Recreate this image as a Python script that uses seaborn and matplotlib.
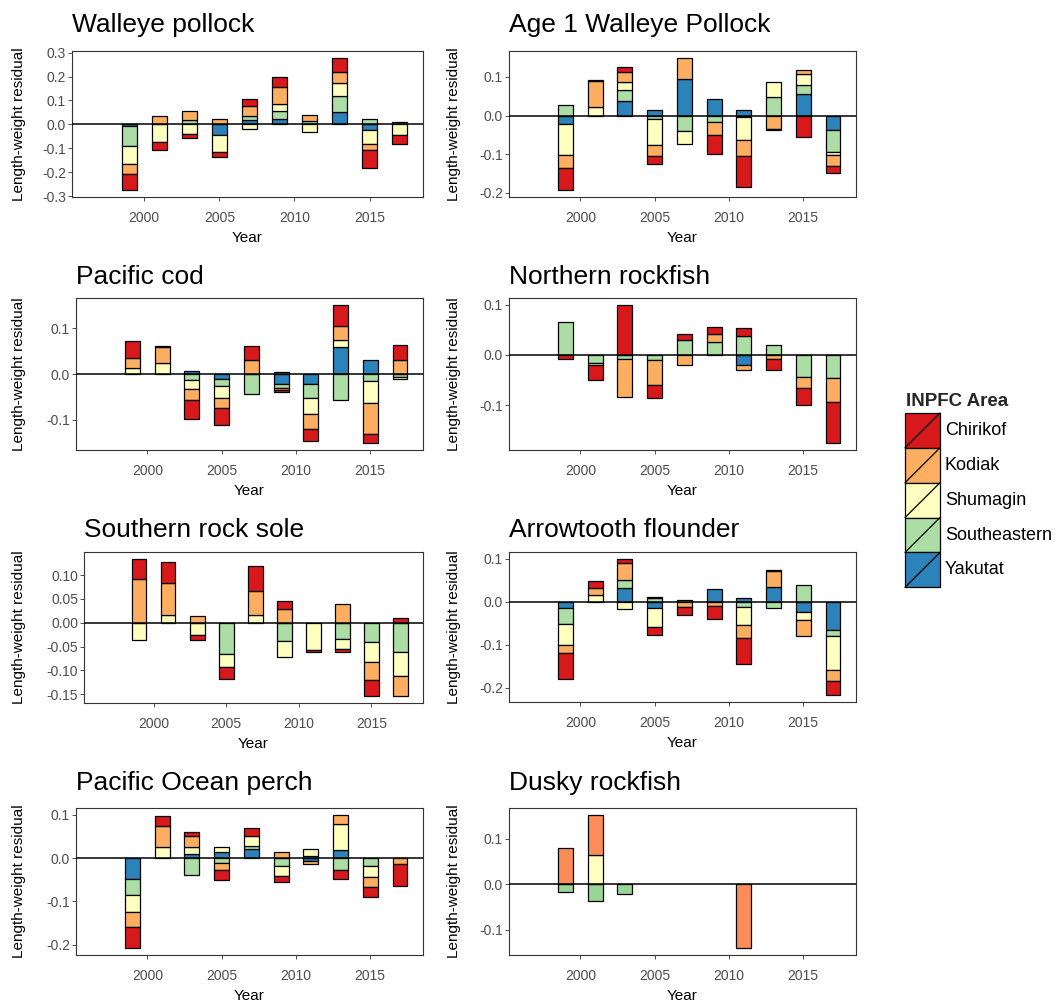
import numpy as np
import pandas as pd
import matplotlib
matplotlib.use("Agg")
import matplotlib.pyplot as plt
from matplotlib.patches import Rectangle
from matplotlib.ticker import MultipleLocator, FormatStrFormatter
import seaborn as sns

#########################################################################
# data: one row per survey year, columns = Chirikof, Kodiak, Shumagin, Southeastern, Yakutat
years = [1999, 2001, 2003, 2005, 2007, 2009, 2011, 2013, 2015, 2017]
areas = ["Chirikof", "Kodiak", "Shumagin", "Southeastern", "Yakutat"]

walleye_pollock = [
    [-0.069, -0.042, -0.075, -0.082, -0.008],
    [-0.035, 0.037, -0.073, 0.0, 0.0],
    [-0.017, 0.035, -0.041, 0.020, 0.0],
    [-0.023, 0.023, -0.072, 0.0, -0.043],
    [0.028, 0.045, -0.018, 0.013, 0.020],
    [0.043, 0.071, 0.031, 0.032, 0.023],
    [0.0, 0.023, -0.034, 0.015, 0.0],
    [0.062, 0.042, 0.055, 0.069, 0.051],
    [-0.075, -0.025, -0.058, 0.021, -0.025],
    [-0.036, 0.0, -0.046, 0.009, 0.0],
]
age1_pollock = [
    [-0.057, -0.034, -0.082, 0.027, -0.021],
    [0.003, 0.067, 0.023, 0.0, 0.0],
    [0.014, 0.026, 0.021, 0.028, 0.038],
    [-0.022, -0.027, -0.067, -0.010, 0.015],
    [0.0, 0.056, -0.034, -0.040, 0.094],
    [-0.049, -0.034, 0.0, -0.017, 0.044],
    [-0.080, -0.041, -0.060, -0.004, 0.014],
    [-0.003, -0.034, 0.039, 0.049, 0.0],
    [-0.056, 0.010, 0.029, 0.022, 0.057],
    [-0.016, -0.030, -0.008, -0.056, -0.038],
]
pacific_cod = [
    [0.036, 0.022, 0.014, 0.0, 0.0],
    [0.002, 0.034, 0.025, 0.0, 0.0],
    [-0.042, -0.024, -0.019, -0.014, 0.007],
    [-0.036, -0.023, -0.026, -0.016, -0.010],
    [0.030, 0.031, 0.0, -0.044, 0.0],
    [-0.006, -0.004, 0.004, -0.009, -0.021],
    [-0.025, -0.033, -0.036, -0.031, -0.021],
    [0.047, 0.029, 0.016, -0.057, 0.059],
    [-0.019, -0.069, -0.048, -0.015, 0.030],
    [0.033, 0.031, -0.006, -0.006, 0.0],
]
northern_rockfish = [
    [-0.008, 0.0, 0.0, 0.066, 0.0],
    [-0.030, 0.0, -0.003, -0.017, 0.0],
    [0.100, -0.075, 0.0, -0.008, 0.0],
    [-0.025, -0.050, 0.0, -0.010, 0.0],
    [0.012, -0.020, 0.0, 0.029, 0.0],
    [0.015, 0.016, 0.0, 0.025, 0.0],
    [0.015, -0.009, 0.0, 0.038, -0.021],
    [-0.023, -0.008, 0.0, 0.019, 0.0],
    [-0.035, -0.022, 0.0, -0.043, 0.0],
    [-0.083, -0.048, 0.0, -0.045, 0.0],
]
southern_rock_sole = [
    [0.042, 0.092, -0.036, 0.0, 0.0],
    [0.044, 0.068, 0.016, 0.0, 0.0],
    [-0.010, 0.015, -0.026, 0.0, 0.0],
    [-0.026, 0.0, -0.028, -0.065, 0.0],
    [0.052, 0.050, 0.017, 0.0, 0.0],
    [0.018, 0.028, -0.032, -0.039, 0.0],
    [-0.003, 0.0, -0.058, 0.0, 0.0],
    [-0.007, 0.039, -0.021, -0.034, 0.0],
    [-0.034, -0.037, -0.042, -0.041, 0.0],
    [0.010, -0.042, -0.050, -0.062, 0.0],
]
arrowtooth_flounder = [
    [-0.060, -0.020, -0.049, -0.036, -0.015],
    [0.017, 0.016, 0.015, 0.0, 0.0],
    [0.009, 0.041, -0.017, 0.017, 0.033],
    [-0.020, 0.003, -0.044, 0.008, -0.014],
    [-0.019, -0.011, 0.004, 0.0, 0.0],
    [-0.032, -0.009, 0.0, 0.0, 0.029],
    [-0.059, -0.030, -0.042, -0.013, 0.008],
    [0.002, 0.037, 0.0, -0.015, 0.034],
    [0.0, -0.037, -0.020, 0.038, -0.023],
    [-0.033, -0.026, -0.078, -0.015, -0.065],
]
pacific_ocean_perch = [
    [-0.049, -0.034, -0.041, -0.036, -0.048],
    [0.024, 0.048, 0.025, 0.0, 0.0],
    [0.008, 0.026, 0.016, -0.040, 0.009],
    [-0.024, -0.015, 0.010, -0.012, 0.015],
    [0.019, 0.0, 0.024, 0.006, 0.021],
    [-0.014, 0.013, -0.023, -0.019, 0.0],
    [0.0, -0.008, 0.017, 0.004, -0.006],
    [-0.021, 0.022, 0.059, -0.027, 0.019],
    [-0.023, -0.023, -0.025, -0.019, 0.0],
    [-0.051, -0.014, 0.0, 0.0, 0.0],
]
# dusky rockfish only sampled in three areas
dusky_years = [1999, 2001, 2003, 2011]
dusky_areas = ["Kodiak", "Shumagin", "Southeastern"]
dusky_rockfish = [
    [0.080, 0.0, -0.018],
    [0.089, 0.064, -0.036],
    [0.0, 0.0, -0.021],
    [-0.141, 0.0, 0.0],
]

pal5 = dict(zip(areas, ["#D7191C", "#FDAE61", "#FFFFBF", "#ABDDA4", "#2B83BA"]))
pal3 = dict(zip(dusky_areas, ["#FC8D59", "#FFFFBF", "#99D594"]))

#########################################################################
sns.set_theme(style="ticks")
plt.rcParams["font.family"] = ["Liberation Sans", "DejaVu Sans"]
plt.rcParams["axes.unicode_minus"] = False

W, H = 1061, 1005
fig = plt.figure(figsize=(W / 100, H / 100), dpi=100)


def px(l, t, r, b):
    return [l / W, 1 - b / H, (r - l) / W, (b - t) / H]


def stack_bars(ax, rows, xs, names, colors):
    df = pd.DataFrame(rows, index=xs, columns=names)
    up = np.zeros(len(df))
    down = np.zeros(len(df))
    # last level sits next to zero, first level on the outside (ggplot stacking)
    for area in names[::-1]:
        v = df[area].to_numpy()
        base = np.where(v > 0, up, down)
        keep = v != 0
        ax.bar(df.index[keep], v[keep], bottom=base[keep], width=1.0,
               color=colors[area], edgecolor="black", linewidth=0.9, zorder=2)
        up += np.clip(v, 0, None)
        down += np.clip(v, None, 0)
    return down.min(), up.max()


# name, data, years, areas, palette, panel box (px), y step, tick format, title baseline
panels = [
    ("Walleye pollock", walleye_pollock, years, areas, pal5, (72, 51, 423, 197), 0.1, "%.1f", 32),
    ("Age 1 Walleye Pollock", age1_pollock, years, areas, pal5, (509, 51, 856, 197), 0.1, "%.1f", 32),
    ("Pacific cod", pacific_cod, years, areas, pal5, (76, 298, 423, 450), 0.1, "%.1f", 284),
    ("Northern rockfish", northern_rockfish, years, areas, pal5, (509, 298, 856, 450), 0.1, "%.1f", 284),
    ("Southern rock sole", southern_rock_sole, years, areas, pal5, (84, 552, 423, 703), 0.05, "%.2f", 537),
    ("Arrowtooth flounder", arrowtooth_flounder, years, areas, pal5, (509, 552, 856, 702), 0.1, "%.1f", 537),
    ("Pacific Ocean perch", pacific_ocean_perch, years, areas, pal5, (76, 808, 423, 955), 0.1, "%.1f", 790),
    ("Dusky rockfish", dusky_rockfish, dusky_years, dusky_areas, pal3, (509, 808, 856, 955), 0.1, "%.1f", 790),
]

for name, rows, xs, names, colors, box, step, fmt, tb in panels:
    l, t, r, b = box
    ax = fig.add_axes(px(l, t, r, b))
    lo, hi = stack_bars(ax, rows, xs, names, colors)
    pad = 0.05 * (hi - lo)
    ax.set_ylim(lo - pad, hi + pad)
    ax.set_xlim(1995.2, 2018.55)
    ax.axhline(0, color="black", linewidth=1.1, zorder=3)
    ax.xaxis.set_major_locator(MultipleLocator(5))
    ax.xaxis.set_major_formatter(FormatStrFormatter("%d"))
    ax.yaxis.set_major_locator(MultipleLocator(step))
    ax.yaxis.set_major_formatter(FormatStrFormatter(fmt))
    ax.tick_params(axis="both", direction="out", length=2.75, width=0.6, color="#333333",
                   labelcolor="#4D4D4D", labelsize=10)
    ax.tick_params(axis="x", pad=7)
    ax.tick_params(axis="y", pad=1.5)
    for s in ax.spines.values():
        s.set_color("#333333")
        s.set_linewidth(0.8)
        s.set_visible(True)
    ax.set_xlabel("Year", fontsize=11, color="black", labelpad=5)
    ax.set_ylabel("Length-weight residual", fontsize=11, color="black")
    lab_x = 26 if l < 300 else 461
    ax.yaxis.set_label_coords((lab_x - l) / (r - l), 0.5)
    fig.text(l / W, 1 - tb / H, name, fontsize=19, color="black", va="baseline", ha="left")

# legend: boxes with the diagonal slash of ggplot keys
lax = fig.add_axes(px(905, 413, 940, 587.3))
lax.set_xlim(0, 1)
lax.set_ylim(len(areas), 0)
lax.axis("off")
for i, area in enumerate(areas):
    lax.add_patch(Rectangle((0, i), 1, 1, facecolor=pal5[area], edgecolor="black",
                            linewidth=0.9, clip_on=False))
    lax.plot([0, 1], [i + 1, i], color="black", linewidth=0.9, clip_on=False)
    lax.text(1.14, i + 0.5, area, fontsize=13, va="center", ha="left", color="black")
fig.text(906 / W, 1 - 406 / H, "INPFC Area", fontsize=13.5, fontweight="bold",
         va="baseline", ha="left")

fig.savefig("out.png", dpi=100, facecolor="white")
